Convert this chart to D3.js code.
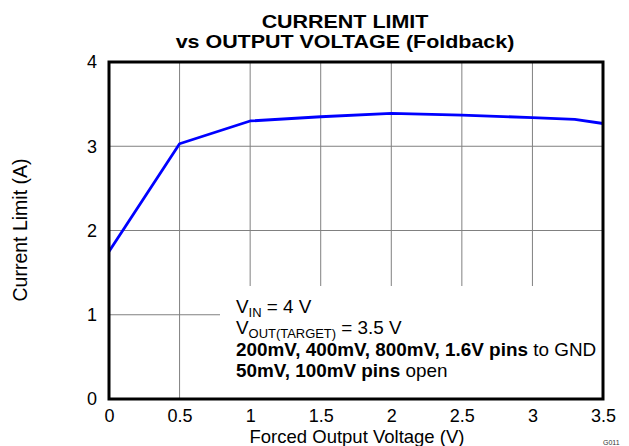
<!DOCTYPE html>
<html><head><meta charset="utf-8">
<script src="https://cdn.jsdelivr.net/npm/d3@7"></script>
<style>body{margin:0;background:#fff}svg{display:block;font-family:"Liberation Sans",Arial,sans-serif}</style>
</head><body>
<svg id="c" width="629" height="446"></svg>
<script>
const xVals = [0, 0.5, 1, 1.5, 2, 2.5, 3, 3.3, 3.5];
const yVals = [1.75, 3.03, 3.30, 3.35, 3.39, 3.37, 3.34, 3.32, 3.27];
const xTicks = [0, 0.5, 1, 1.5, 2, 2.5, 3, 3.5];
const yTicks = [0, 1, 2, 3, 4];
const titleLines = ["CURRENT LIMIT", "vs OUTPUT VOLTAGE (Foldback)"];

const svg = d3.select("#c");
const L = 109, R = 603, T = 62, B = 399;
const x = d3.scaleLinear().domain([0, 3.5]).range([L, R]);
const y = d3.scaleLinear().domain([0, 4]).range([B, T]);

// grid
const g = svg.append("g");
g.selectAll(".vg").data(xTicks.slice(1, -1)).join("line")
  .attr("x1", d => x(d)).attr("x2", d => x(d)).attr("y1", T).attr("y2", B)
  .attr("stroke", "#808080").attr("stroke-width", 1);
g.selectAll(".hg").data(yTicks.slice(1, -1)).join("line")
  .attr("x1", L).attr("x2", R).attr("y1", d => y(d)).attr("y2", d => y(d))
  .attr("stroke", "#808080").attr("stroke-width", 1);

// annotation background box
svg.append("rect").attr("x", 220).attr("y", 286).attr("width", R - 220).attr("height", B - 286).attr("fill", "#fff");

// line
const line = d3.line().x((d, i) => x(xVals[i])).y(d => y(d));
svg.append("path").datum(yVals).attr("d", line).attr("fill", "none")
  .attr("stroke", "#0000ff").attr("stroke-width", 2.8).attr("stroke-linejoin", "round");

// frame
svg.append("rect").attr("x", L).attr("y", T).attr("width", R - L).attr("height", B - T)
  .attr("fill", "none").attr("stroke", "#000").attr("stroke-width", 3);

// axes (labels only)
const xa = svg.append("g").attr("transform", `translate(0,${B})`)
  .call(d3.axisBottom(x).tickValues(xTicks).tickSize(0).tickPadding(10).tickFormat(d3.format("")));
const ya = svg.append("g").attr("transform", `translate(${L},0)`)
  .call(d3.axisLeft(y).tickValues(yTicks).tickSize(0).tickPadding(12).tickFormat(d3.format("d")));
[xa, ya].forEach(a => {
  a.select(".domain").remove();
  a.selectAll("text").attr("font-size", 18).attr("fill", "#000").attr("font-family", '"Liberation Sans",Arial,sans-serif');
});
xa.selectAll("text").attr("dy", "0.71em");

// titles
svg.append("g").selectAll("text").data(titleLines).join("text")
  .attr("transform", (d, i) => `translate(345,${28 + i * 20}) scale(1.16,1)`)
  .attr("text-anchor", "middle")
  .attr("font-weight", "bold").attr("font-size", 18.5).text(d => d);

svg.append("text").attr("x", 357).attr("y", 443).attr("text-anchor", "middle")
  .attr("font-size", 18.5).text("Forced Output Voltage (V)");
svg.append("text").attr("transform", "translate(27,230) rotate(-90)").attr("text-anchor", "middle")
  .attr("font-size", 19.5).text("Current Limit (A)");
svg.append("text").attr("x", 603).attr("y", 445).attr("font-size", 7).attr("fill", "#333").text("G011");

// annotation
const ann = svg.append("g").attr("font-size", 17.5).attr("transform", "translate(236,0) scale(1.08,1)");
const t1 = ann.append("text").attr("x", 0).attr("y", 313);
t1.append("tspan").text("V");
t1.append("tspan").attr("font-size", 12).attr("dy", 4).text("IN");
t1.append("tspan").attr("dy", -4).text(" = 4 V");
const t2 = ann.append("text").attr("x", 0).attr("y", 334);
t2.append("tspan").text("V");
t2.append("tspan").attr("font-size", 12).attr("dy", 4).text("OUT(TARGET)");
t2.append("tspan").attr("dy", -4).text(" = 3.5 V");
const t3 = ann.append("text").attr("x", 0).attr("y", 356);
t3.append("tspan").attr("font-weight", "bold").text("200mV, 400mV, 800mV, 1.6V pins");
t3.append("tspan").text(" to GND");
const t4 = ann.append("text").attr("x", 0).attr("y", 377);
t4.append("tspan").attr("font-weight", "bold").text("50mV, 100mV pins");
t4.append("tspan").text(" open");
</script>
</body></html>
